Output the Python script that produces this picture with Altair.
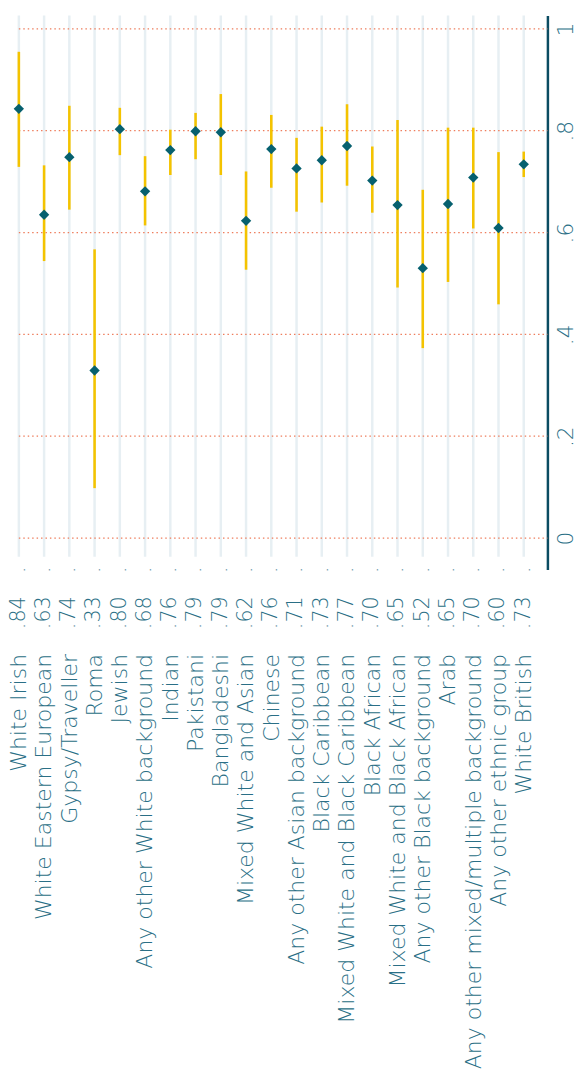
import altair as alt
import pandas as pd

categories = ["White Irish", "White Eastern European", "Gypsy/Traveller", "Roma", "Jewish",
              "Any other White background", "Indian", "Pakistani", "Bangladeshi",
              "Mixed White and Asian", "Chinese", "Any other Asian background",
              "Black Caribbean", "Mixed White and Black Caribbean", "Black African",
              "Mixed White and Black African", "Any other Black background", "Arab",
              "Any other mixed/multiple background", "Any other ethnic group", "White British"]
estimate = [0.843, 0.635, 0.748, 0.329, 0.803, 0.681, 0.762, 0.799, 0.797, 0.623, 0.764,
            0.726, 0.742, 0.770, 0.702, 0.654, 0.530, 0.656, 0.708, 0.609, 0.734]
ci_low = [0.729, 0.544, 0.645, 0.098, 0.752, 0.614, 0.713, 0.744, 0.713, 0.527, 0.688,
          0.641, 0.659, 0.692, 0.639, 0.492, 0.373, 0.503, 0.608, 0.459, 0.709]
ci_high = [0.955, 0.732, 0.849, 0.567, 0.845, 0.750, 0.802, 0.835, 0.872, 0.720, 0.831,
           0.786, 0.808, 0.852, 0.769, 0.821, 0.684, 0.806, 0.806, 0.758, 0.759]
value_labels = [".84", ".63", ".74", ".33", ".80", ".68", ".76", ".79", ".79", ".62", ".76",
                ".71", ".73", ".77", ".70", ".65", ".52", ".65", ".70", ".60", ".73"]
y_ticks = [0, 0.2, 0.4, 0.6, 0.8, 1.0]

df = pd.DataFrame({"cat": categories, "est": estimate, "lo": ci_low, "hi": ci_high,
                   "lab": value_labels, "dot": ["."] * len(categories)})
ticks_df = pd.DataFrame({"v": y_ticks})

TEXT = "#2a6f86"
FONT = "DejaVu Sans"
W, H = 547, 562
Y_DOM = [-0.062, 1.0265]
GRID_BOTTOM = -0.0368

xscale = alt.Scale(type="point", range=[11, 523], padding=0)
xs = alt.X("cat:N", sort=categories, scale=xscale,
           axis=alt.Axis(title=None, orient="bottom", labelAngle=270, labelAlign="right",
                         labelBaseline="middle", labelPadding=85, labelFontSize=22.3,
                         labelFont=FONT, labelFontWeight=200, labelColor=TEXT,
                         labelLimit=700, domain=False, ticks=False, tickSize=0, grid=False))
xs_plain = alt.X("cat:N", sort=categories, scale=xscale, title=None)
ys = alt.Scale(domain=Y_DOM, nice=False, zero=False)

base = alt.Chart(df)

vgrid = base.mark_rule(color="#e7eff3", strokeWidth=2.5).encode(
    x=xs,
    y=alt.datum(Y_DOM[1], scale=ys,
                axis=alt.Axis(title=None, orient="right", values=y_ticks, labelAngle=270,
                              labelAlign="center", labelBaseline="top", labelPadding=8,
                              labelFontSize=22, labelFont=FONT, labelFontWeight=200,
                              labelColor=TEXT, domainColor="#0b4c62", domainWidth=2.5,
                              ticks=False, grid=False,
                              labelExpr="datum.value == 0 ? '0' : datum.value == 1 ? '1' : replace(format(datum.value, '.1f'), '0.', '.')")),
    y2=alt.datum(GRID_BOTTOM),
)

hgrid = alt.Chart(ticks_df).mark_rule(color="#ee7d5c", strokeWidth=1.3,
                                      strokeDash=[1.5, 3]).encode(
    x=alt.value(11),
    x2=alt.value(W),
    y=alt.Y("v:Q", scale=ys, title=None),
)

bars = base.mark_rule(color="#f4c300", strokeWidth=2.6).encode(
    x=xs_plain, y=alt.Y("lo:Q", scale=ys, title=None), y2="hi:Q")

pts = base.mark_point(shape="diamond", filled=True, size=110, color="#06606f", opacity=1).encode(
    x=xs_plain, y=alt.Y("est:Q", scale=ys, title=None))

vals = base.mark_text(angle=270, align="right", baseline="middle", fontSize=21, font=FONT,
                      fontWeight=200, color=TEXT).encode(
    x=xs_plain, y=alt.value(589), text="lab:N")

dots = base.mark_text(angle=270, align="right", baseline="middle", fontSize=20, font=FONT,
                      fontWeight=200, color=TEXT).encode(
    x=xs_plain, y=alt.value(559), text="dot:N")

chart = alt.layer(vgrid, hgrid, bars, pts, vals, dots).properties(
    width=W, height=H,
    autosize=alt.AutoSizeParams(type="none"),
    padding={"left": 0, "top": 0, "right": 30, "bottom": 505},
).configure_view(stroke=None)

chart.save("out.html", embed_options={"renderer": "svg", "actions": False})
